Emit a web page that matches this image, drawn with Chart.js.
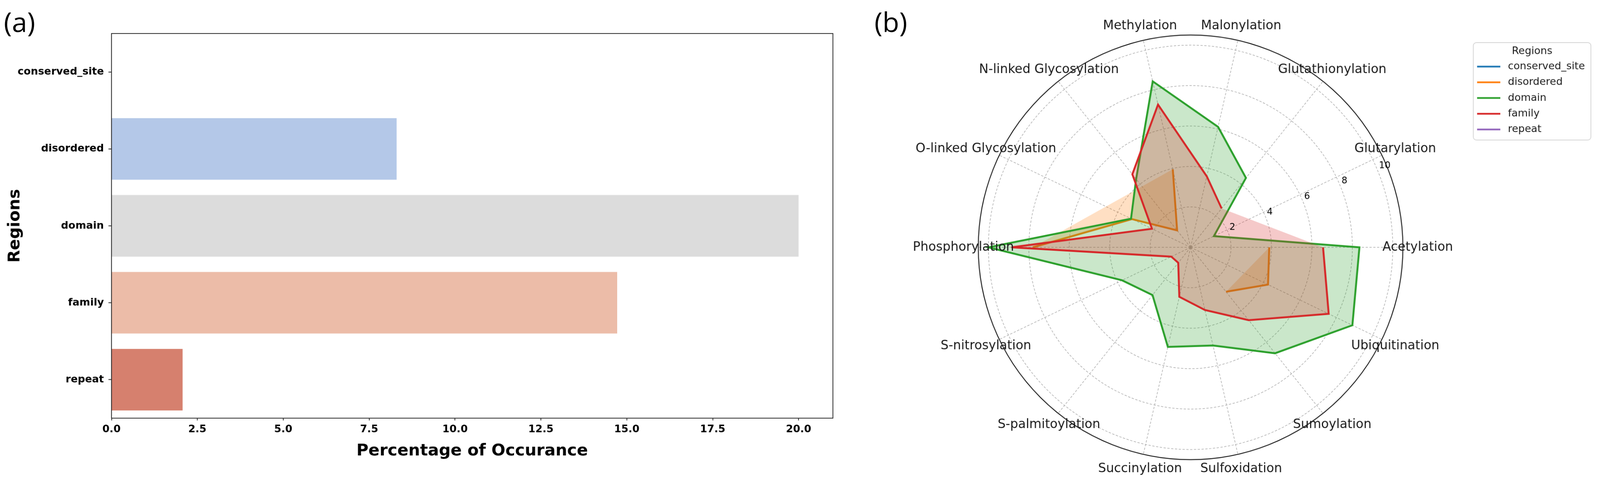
<!DOCTYPE html>
<html><head><meta charset="utf-8">
<script src="https://cdn.jsdelivr.net/npm/chart.js@4.4.1/dist/chart.umd.min.js"></script>
<style>
html,body{margin:0;padding:0;background:#fff;overflow:hidden;}
body{width:100vw;height:100vh;position:relative;}
#wrap{position:absolute;left:0;top:0;width:4205px;height:1257px;transform-origin:0 0;background:#fff;}
canvas{position:absolute;top:0;}
.panel{position:absolute;font-family:'Open Sans',sans-serif;font-size:72px;line-height:72px;color:#000;}
</style></head><body>
<div id="wrap">
<canvas id="bar" width="2250" height="1257" style="left:0;width:2250px;height:1257px"></canvas>
<canvas id="radar" width="1955" height="1257" style="left:2250px;width:1955px;height:1257px"></canvas>
<div class="panel" style="left:10px;top:20px">(a)</div>
<div class="panel" style="left:2298px;top:20px">(b)</div>
</div>
<script>
// fit the 4205x1257 layout to the actual viewport width (uniform scale)
(function () {
  const s = window.innerWidth / 4205;
  document.getElementById('wrap').style.transform = `scale(${s})`;
})();

// ---------- Panel (a) data ----------
const regionLabels = ['conserved_site', 'disordered', 'domain', 'family', 'repeat'];
const regionPct = [0, 8.3, 20.0, 14.72, 2.07];
const barColors = ['#8caeef', '#b4c8e8', '#dcdcdc', '#ecbca8', '#d6806e'];

// ---------- Panel (b) data (alphabetical order, counter-clockwise from the right) ----------
const ptmLabels = ['Acetylation', 'Glutarylation', 'Glutathionylation', 'Malonylation', 'Methylation',
  'N-linked Glycosylation', 'O-linked Glycosylation', 'Phosphorylation', 'S-nitrosylation',
  'S-palmitoylation', 'Succinylation', 'Sulfoxidation', 'Sumoylation', 'Ubiquitination'];
const seriesNames = ['conserved_site', 'disordered', 'domain', 'family', 'repeat'];
const seriesColors = ['#1f77b4', '#ff7f0e', '#2ca02c', '#d62728', '#9467bd'];
const conservedSiteVals = [0, 0, 0, 0, 0, 0, 0, 0, 0, 0, 0, 0, 0, 0];
const disorderedVals = [3.89, null, null, null, 3.96, 1.07, 3.22, 7.8, null, null, null, null, 2.81, 4.25];
const domainVals = [8.35, 1.28, 4.39, 6.11, 8.42, 4.32, 3.27, 10.0, 3.76, 3.02, 5.05, 4.98, 6.70, 8.88];
const familyVals = [6.55, null, 2.46, 3.60, 7.24, 4.62, 2.12, 8.86, 1.06, 0.98, 2.51, 3.18, 4.61, 7.58];
const repeatVals = [0, 0, 0, 0, 0, 0, 0, 0, 0, 0, 0, 0, 0, 0];
const radialTicks = [2, 4, 6, 8, 10];
const radialMax = 10.5;

Chart.defaults.font.family = 'DejaVu Sans';
Chart.defaults.color = '#000';

// ---------- Panel (a) ----------
const boxPlugin = {
  id: 'box',
  afterDraw(chart) {
    const a = chart.chartArea, ctx = chart.ctx;
    ctx.save();
    ctx.strokeStyle = '#222';
    ctx.lineWidth = 2;
    ctx.strokeRect(a.left, a.top, a.right - a.left, a.bottom - a.top);
    ctx.restore();
  }
};
const boldTick = { family: 'DejaVu Sans', weight: 'bold', size: 27 };
const boldTitle = { family: 'DejaVu Sans', weight: 'bold', size: 43 };
new Chart(document.getElementById('bar'), {
  type: 'bar',
  data: {
    labels: regionLabels,
    datasets: [{ data: regionPct, backgroundColor: barColors, borderWidth: 0,
      barPercentage: 0.8, categoryPercentage: 1.0 }]
  },
  options: {
    indexAxis: 'y', responsive: false, animation: false, devicePixelRatio: 1,
    layout: { padding: { top: 88, right: 61, left: 0, bottom: 0 } },
    plugins: { legend: { display: false }, tooltip: { enabled: false } },
    scales: {
      x: {
        min: 0, max: 21,
        ticks: { stepSize: 2.5, includeBounds: false, callback: v => Number(v).toFixed(1),
          font: boldTick, color: '#000', padding: 8 },
        grid: { drawOnChartArea: false, drawTicks: true, tickLength: 6, tickColor: '#222', tickWidth: 2 },
        border: { display: true, color: '#222', width: 2 },
        title: { display: true, text: 'Percentage of Occurance', font: boldTitle, color: '#000',
          padding: { top: 0, bottom: 45 } },
        afterFit: s => { s.height = 158; }
      },
      y: {
        ticks: { font: boldTick, color: '#000', padding: 12 },
        grid: { offset: false, drawOnChartArea: false, drawTicks: true, tickLength: 8, tickColor: '#222', tickWidth: 2 },
        border: { display: true, color: '#222', width: 2 },
        title: { display: true, text: 'Regions', font: boldTitle, color: '#000',
          padding: { top: 14, bottom: 0 } },
        afterFit: s => { s.width = 293; }
      }
    }
  },
  plugins: [boxPlugin]
});

// ---------- Panel (b) ----------
// Chart.js radar runs clockwise from startAngle; reorder so Acetylation is at the right and the
// alphabetical order runs counter-clockwise as in the original.
const clockwise = [0, 13, 12, 11, 10, 9, 8, 7, 6, 5, 4, 3, 2, 1];
const seriesVals = [conservedSiteVals, disorderedVals, domainVals, familyVals, repeatVals];
function rgba(hex, a) {
  const n = parseInt(hex.slice(1), 16);
  return `rgba(${(n >> 16) & 255},${(n >> 8) & 255},${n & 255},${a})`;
}
const radarDatasets = seriesNames.map((name, k) => ({
  label: name,
  data: clockwise.map(i => seriesVals[k][i]),
  borderColor: seriesColors[k],
  backgroundColor: rgba(seriesColors[k], 0.25),
  fill: 'shape',
  spanGaps: false,
  borderWidth: 5,
  pointRadius: 0,
  tension: 0,
  order: 5 - k
}));

const radarDecor = {
  id: 'radarDecor',
  afterDraw(chart) {
    const s = chart.scales.r, ctx = chart.ctx;
    ctx.save();
    // outer spine
    ctx.strokeStyle = '#222';
    ctx.lineWidth = 2.5;
    ctx.setLineDash([]);
    ctx.beginPath();
    ctx.arc(s.xCenter, s.yCenter, s.drawingArea, 0, Math.PI * 2);
    ctx.stroke();
    // radial tick labels at 22.5 deg
    const ang = 22.5 * Math.PI / 180;
    ctx.fillStyle = '#000';
    ctx.font = '24px "DejaVu Sans"';
    ctx.textAlign = 'left';
    ctx.textBaseline = 'alphabetic';
    s.ticks.forEach(t => {
      if (!radialTicks.includes(t.value)) return;
      const d = s.getDistanceFromCenterForValue(t.value);
      const x = s.xCenter + d * Math.cos(ang), y = s.yCenter - d * Math.sin(ang);
      ctx.fillText(String(t.value), x + 4, y - 5);
    });
    // category labels
    ctx.font = '33px "DejaVu Sans"';
    ctx.fillStyle = '#1a1a1a';
    ctx.textAlign = 'center';
    ctx.textBaseline = 'middle';
    chart.data.labels.forEach((lab, i) => {
      const p = s.getPointPosition(i, s.drawingArea + 39);
      ctx.fillText(lab, p.x, p.y);
    });
    // legend
    const L = 1622, T = 112, R = 1931, B = 368, rad = 8;
    ctx.beginPath();
    ctx.moveTo(L + rad, T); ctx.lineTo(R - rad, T); ctx.arcTo(R, T, R, T + rad, rad);
    ctx.lineTo(R, B - rad); ctx.arcTo(R, B, R - rad, B, rad);
    ctx.lineTo(L + rad, B); ctx.arcTo(L, B, L, B - rad, rad);
    ctx.lineTo(L, T + rad); ctx.arcTo(L, T, L + rad, T, rad);
    ctx.closePath();
    ctx.fillStyle = 'rgba(255,255,255,0.8)';
    ctx.fill();
    ctx.strokeStyle = '#d4d4d4';
    ctx.lineWidth = 2;
    ctx.stroke();
    ctx.font = '27px "DejaVu Sans"';
    ctx.fillStyle = '#1a1a1a';
    ctx.textAlign = 'center';
    ctx.fillText('Regions', (L + R) / 2, 135);
    ctx.textAlign = 'left';
    chart.data.datasets.forEach((ds, k) => {
      const y = 175 + k * 41.3;
      ctx.strokeStyle = ds.borderColor;
      ctx.lineWidth = 4.5;
      ctx.beginPath();
      ctx.moveTo(1632, y); ctx.lineTo(1693, y);
      ctx.stroke();
      ctx.fillStyle = '#1a1a1a';
      ctx.fillText(ds.label, 1713, y);
    });
    ctx.restore();
  }
};

new Chart(document.getElementById('radar'), {
  type: 'radar',
  data: { labels: clockwise.map(i => ptmLabels[i]), datasets: radarDatasets },
  options: {
    responsive: false, animation: false, devicePixelRatio: 1,
    layout: { padding: { left: 321, right: 518, top: 92, bottom: 49 } },
    plugins: { legend: { display: false }, tooltip: { enabled: false } },
    elements: { line: { tension: 0 }, point: { radius: 0 } },
    scales: {
      r: {
        min: 0, max: radialMax, startAngle: 90,
        ticks: { display: false, stepSize: 2, includeBounds: false },
        pointLabels: { display: false },
        grid: { circular: true, color: '#aaaaaa', lineWidth: 1.5 },
        border: { dash: [6, 4] },
        angleLines: { display: true, color: '#aaaaaa', lineWidth: 1.5, borderDash: [6, 4] }
      }
    }
  },
  plugins: [radarDecor]
});
</script>
</body></html>
